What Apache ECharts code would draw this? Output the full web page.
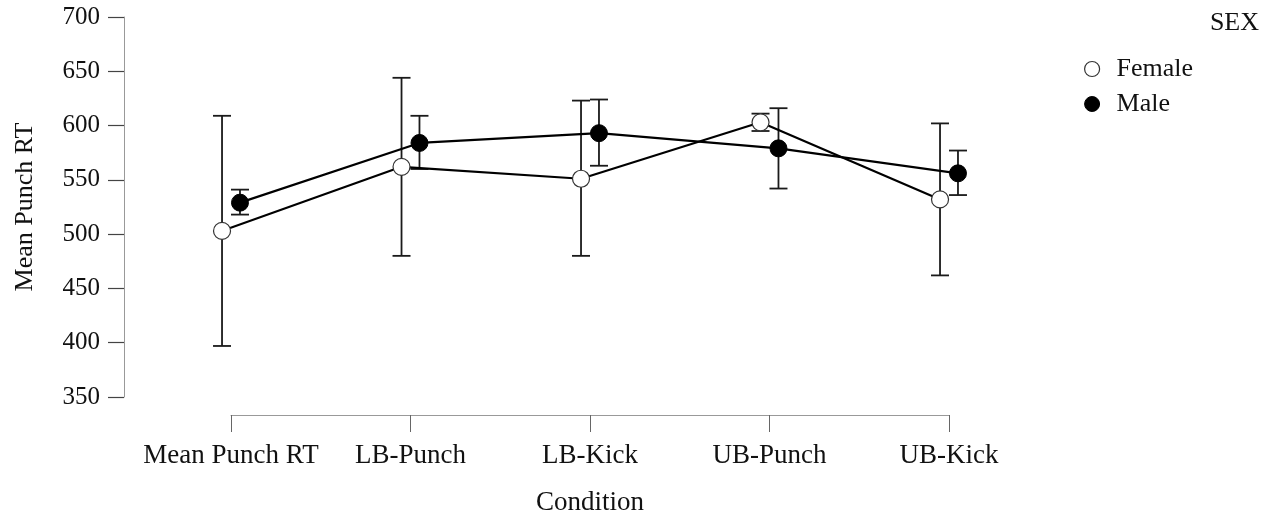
<!DOCTYPE html>
<html>
<head>
<meta charset="utf-8">
<script src="https://cdn.jsdelivr.net/npm/echarts@6/dist/echarts.min.js"></script>
<style>
  html, body { margin: 0; padding: 0; background: #fff; }
  #chart { width: 1273px; height: 517px; }
</style>
</head>
<body>
<div id="chart"></div>
<script>
  // conditions on the x axis
  var categories = ['Mean Punch RT', 'LB-Punch', 'LB-Kick', 'UB-Punch', 'UB-Kick'];
  // female means and error bar ends
  var femaleMean = [503, 562, 551, 603, 532];
  var femaleLow = [397, 480, 480, 595, 462];
  var femaleHigh = [609, 644, 623, 611, 602];
  // male means and error bar ends
  var maleMean = [529, 584, 593, 579, 556];
  var maleLow = [518, 560, 563, 542, 536];
  var maleHigh = [541, 609, 624, 616, 577];
  var yTicks = [350, 400, 450, 500, 550, 600, 650, 700];

  var dodge = 0.05;
  var font = '"Liberation Serif", "Times New Roman", serif';

  function pts(means, shift) {
    return means.map(function (v, i) { return [i + shift, v]; });
  }
  function bars(lows, highs, shift) {
    return lows.map(function (v, i) { return [i + shift, v, highs[i]]; });
  }

  function renderBar(params, api) {
    var x = api.value(0);
    var lo = api.coord([x, api.value(1)]);
    var hi = api.coord([x, api.value(2)]);
    var w = 9;
    var st = { stroke: '#1a1a1a', lineWidth: 1.8 };
    return {
      type: 'group',
      children: [
        { type: 'line', shape: { x1: lo[0], y1: lo[1], x2: hi[0], y2: hi[1] }, style: st },
        { type: 'line', shape: { x1: hi[0] - w, y1: hi[1], x2: hi[0] + w, y2: hi[1] }, style: st },
        { type: 'line', shape: { x1: lo[0] - w, y1: lo[1], x2: lo[0] + w, y2: lo[1] }, style: st }
      ]
    };
  }

  var myChart = echarts.init(document.getElementById('chart'));
  myChart.setOption({
    animation: false,
    textStyle: { fontFamily: font },
    title: {
      text: 'SEX',
      right: 9,
      top: 5,
      textStyle: { fontFamily: font, fontSize: 26, fontWeight: 'normal', color: '#111' }
    },
    legend: {
      orient: 'vertical',
      left: 1079,
      top: 51,
      itemWidth: 15,
      itemHeight: 15,
      itemGap: 9,
      textStyle: { fontFamily: font, fontSize: 26, color: '#111', padding: [0, 0, 0, 12] },
      data: [
        { name: 'Female', icon: 'circle', itemStyle: { color: '#fff', borderColor: '#333', borderWidth: 1.2 } },
        { name: 'Male', icon: 'circle', itemStyle: { color: '#000', borderColor: '#000', borderWidth: 1 } }
      ]
    },
    grid: { left: 231, right: 324, top: 17, bottom: 120, outerBoundsMode: 'none' },
    xAxis: {
      type: 'value',
      min: 0,
      max: categories.length - 1,
      interval: 1,
      offset: 18,
      name: 'Condition',
      nameLocation: 'middle',
      nameGap: 74,
      nameTextStyle: { fontFamily: font, fontSize: 27, color: '#111', verticalAlign: 'top' },
      splitLine: { show: false },
      axisLine: { onZero: false, lineStyle: { color: '#999', width: 1 } },
      axisTick: { length: 17, lineStyle: { color: '#666', width: 1 } },
      axisLabel: {
        margin: 27,
        fontFamily: font,
        fontSize: 27,
        color: '#111',
        verticalAlign: 'top',
        formatter: function (v) { return categories[Math.round(v)]; }
      }
    },
    yAxis: {
      type: 'value',
      min: yTicks[0],
      max: yTicks[yTicks.length - 1],
      interval: 50,
      offset: 107,
      name: 'Mean Punch RT',
      nameLocation: 'middle',
      nameGap: 86,
      nameTextStyle: { fontFamily: font, fontSize: 26, color: '#111' },
      splitLine: { show: false },
      axisLine: { show: true, onZero: false, lineStyle: { color: '#999', width: 1 } },
      axisTick: { show: true, length: 16, lineStyle: { color: '#444', width: 1.2 } },
      axisLabel: { margin: 24, fontFamily: font, fontSize: 25, color: '#111' }
    },
    series: [
      {
        name: 'Female bars',
        type: 'custom',
        renderItem: renderBar,
        clip: false,
        encode: { x: 0, y: [1, 2] },
        data: bars(femaleLow, femaleHigh, -dodge),
        z: 1
      },
      {
        name: 'Male bars',
        type: 'custom',
        renderItem: renderBar,
        clip: false,
        encode: { x: 0, y: [1, 2] },
        data: bars(maleLow, maleHigh, dodge),
        z: 1
      },
      {
        name: 'Female',
        type: 'line',
        data: pts(femaleMean, -dodge),
        clip: false,
        symbol: 'circle',
        symbolSize: 17,
        lineStyle: { color: '#000', width: 2.2 },
        itemStyle: { color: '#fff', borderColor: '#333', borderWidth: 1.2 },
        z: 3
      },
      {
        name: 'Male',
        type: 'line',
        data: pts(maleMean, dodge),
        clip: false,
        symbol: 'circle',
        symbolSize: 17,
        lineStyle: { color: '#000', width: 2.2 },
        itemStyle: { color: '#000', borderColor: '#000', borderWidth: 1 },
        z: 3
      }
    ]
  });
</script>
</body>
</html>
